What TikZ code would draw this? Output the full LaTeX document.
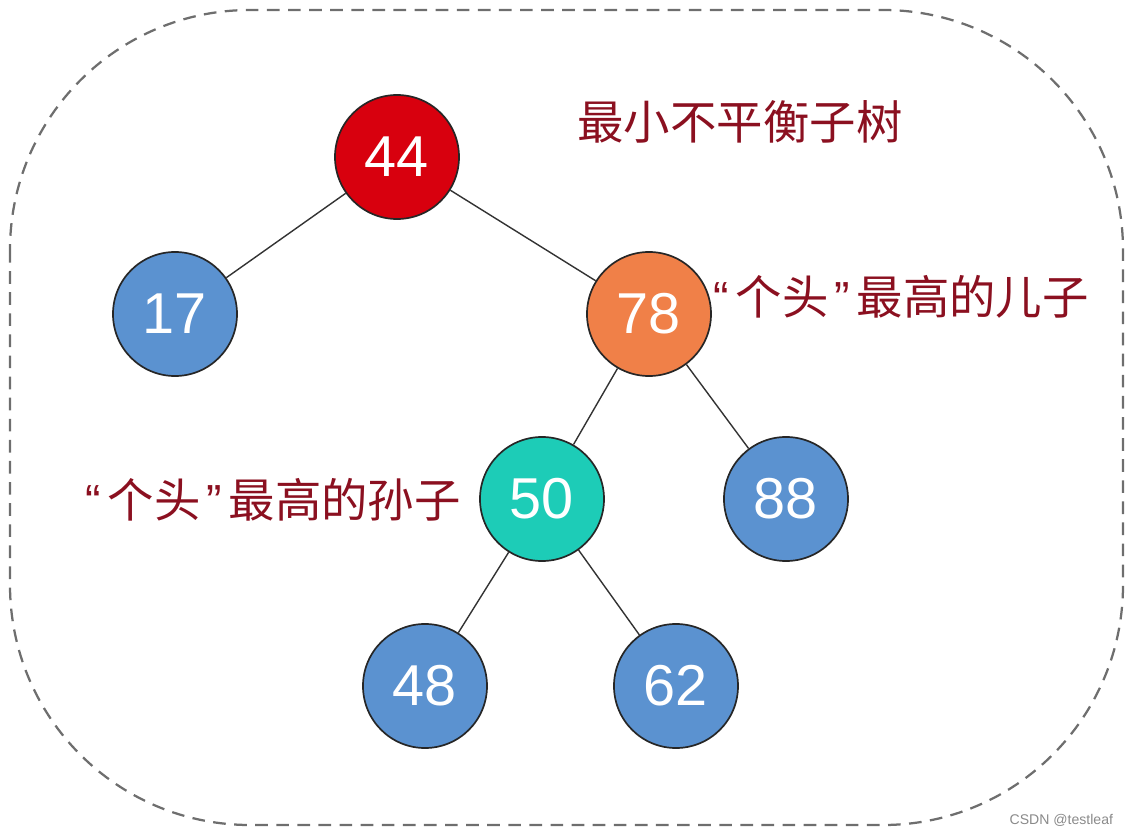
\documentclass[tikz,border=0pt]{standalone}
\usepackage{fontspec}
\usepackage{xcolor}
\usepackage{tikz}
\usetikzlibrary{positioning}
\setsansfont{Liberation Sans}
\newfontfamily\cjk{Noto Sans CJK SC}
\definecolor{rootred}{HTML}{D8000E}
\definecolor{leafblue}{HTML}{5B92D0}
\definecolor{sonorange}{HTML}{F08048}
\definecolor{grandteal}{HTML}{1DCCB7}
\definecolor{notered}{HTML}{8B1020}
\definecolor{framegray}{HTML}{6E6E6E}
\definecolor{markgray}{HTML}{8A8A8A}
\newcommand{\openq}{{\sffamily “}\hspace{5pt}}
\newcommand{\closeq}{\hspace{4pt}{\sffamily ”}\hspace{5pt}}

\begin{document}
\begin{tikzpicture}[x=0.025cm, y=-0.025cm,
  vertex/.style={circle, draw=black!85, line width=1.2pt, minimum size=3.1cm, inner sep=0pt,
                 font=\sffamily\fontsize{41}{41}\selectfont, text=white},
  edge/.style={draw=black!80, line width=1pt},
  note/.style={font=\cjk\fontsize{33}{33}\selectfont, text=notered, inner sep=0pt}
]
\useasboundingbox (0,0) rectangle (1132,834);
% frame
\draw[framegray, dashed, line width=1.6pt, dash pattern=on 9pt off 6pt, rounded corners=6cm]
  (10,10) rectangle (1123,825);

% tree
\node[vertex, fill=rootred] (n44) at (397,157) {44};
\node[vertex, fill=leafblue] (n17) at (175,314) {17};
\node[vertex, fill=sonorange] (n78) at (649,314) {78};
\node[vertex, fill=grandteal] (n50) at (542,499) {50};
\node[vertex, fill=leafblue] (n88) at (786,499) {88};
\node[vertex, fill=leafblue] (n48) at (425,686) {48};
\node[vertex, fill=leafblue] (n62) at (676,686) {62};
\draw[edge] (n44) -- (n17);
\draw[edge] (n44) -- (n78);
\draw[edge] (n78) -- (n50);
\draw[edge] (n78) -- (n88);
\draw[edge] (n50) -- (n48);
\draw[edge] (n50) -- (n62);

% notes
\node[note] (subtree) at (740,122) {最小不平衡子树};
\node[note] (tallson) at (901,297) {\openq 个头\closeq 最高的儿子};
\node[note] (tallgrand) at (273,500) {\openq 个头\closeq 最高的孙子};
\node[font=\sffamily\fontsize{10}{10}\selectfont, text=markgray, anchor=east] (mark) at (1118,820) {CSDN @testleaf};
\end{tikzpicture}
\end{document}
